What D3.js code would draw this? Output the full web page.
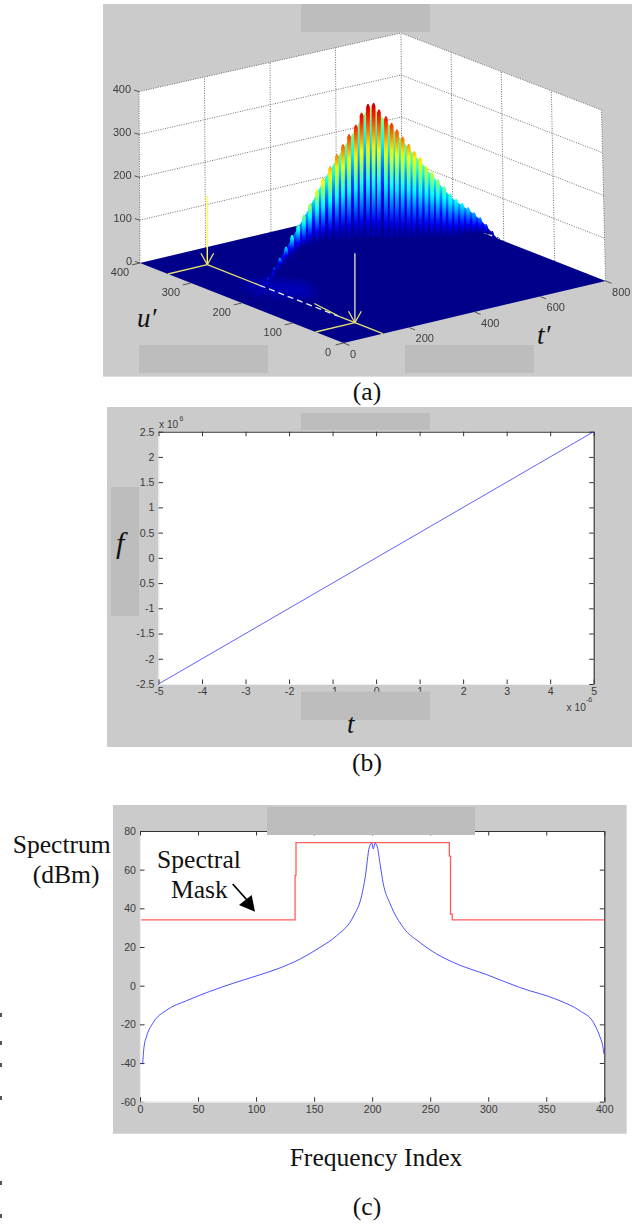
<!DOCTYPE html>
<html>
<head>
<meta charset="utf-8">
<style>
html,body{margin:0;padding:0;background:#fff;}
svg{display:block;}
text{font-family:"Liberation Sans",Arial,sans-serif;fill:#3c3c3c;}
.serif{font-family:"Liberation Serif","Times New Roman",serif;fill:#111;}
</style>
<script src="https://cdnjs.cloudflare.com/ajax/libs/d3/7.8.5/d3.min.js"></script>
</head>
<body>
<script>
// ---------- DATA ----------
// (a) 3-D surface: ridge columns
const ridgeT = [44,62,81,100,118,137,156,175,193,212,234,253,275,296,315,334,355,373,393,410,
                426,447,464,480,497,515,532,550,568,585,602,621,639,657,675,693,711,729,747,765,782];
const ridgeZ = [13,28,44,64,84,106,130,151,171,194,222,246,269,293,313,333,352,377,394,393,
                375,356,337,319,299,279,259,241,219,201,181,161,141,125,112,99,84,69,50,30,12];
const ridgeBaseZ = [5,20,35,54,65,76,84,93,96,100,100,100,98,97,96,92,91,88,84,81,
                    78,74,71,68,65,62,58,55,52,49,46,42,39,38,37,35,33,31,28,22,10];
const ridgeU = 200;
const zTicks = [0,100,200,300,400];
const tTicks = [0,200,400,600,800];
const uTicks = [0,100,200,300,400];
const markT = 120, markUFar = 345, markUNear = 55, markZ = 160;
const dashFromU = 242, dashToU = 85;
const sideMark = {t:[136,122], u:[145,91]};
const glowT = [90,170,210,170,100], glowU = [260,250,200,170,200];

// (b) linear frequency sweep
const sweepT = [-5, 5];      // x 10^-6
const sweepF = [-2.5, 2.5];  // x 10^6
const bXTicks = [-5,-4,-3,-2,-1,0,1,2,3,4,5];
const bYTicks = [-2.5,-2,-1.5,-1,-0.5,0,0.5,1,1.5,2,2.5];

// (c) spectrum and spectral mask
const maskIndex = [1,133,133.6,133.6,134.4,134.4,266.5,266.5,267.5,267.5,269,269,400];
const maskDbm   = [34,34,34,57,57,74,74,67,67,37,37,34,34];
const specIndex = [2.3,3.4,5.8,11.5,23,40,60,80,100,118,138,155,169.5,184,191,194,197.6,199.6,201,202.5,204.5,206.8,209.6,215.4,226.9,241,255.6,270,298.7,327,361,379,390.6,396,398.6,399.8];
const specDbm   = [-40.6,-32,-26,-19,-12.6,-7.8,-3,1.2,5,8.6,13.8,19.8,25.9,36,46.6,56,71.7,73.7,70.8,73.7,71.7,63,52.7,42.5,30,22.4,16.4,12,5.7,-0.9,-7.6,-13,-19,-26,-31,-35.4];
const cXTicks = [0,50,100,150,200,250,300,350,400];
const cYTicks = [-60,-40,-20,0,20,40,60,80];

const strayMarks = [1015,1043,1065,1098,1183,1216];

// ---------- SETUP ----------
const W = 632, H = 1224;
const BG = "#cbcbcb", MASKGREY = "#bdbdbd";
const svg = d3.select("body").append("svg").attr("width",W).attr("height",H);
const defs = svg.append("defs");
const blur = (id,sd)=>defs.append("filter").attr("id",id).attr("x","-10%").attr("y","-10%").attr("width","120%").attr("height","120%")
  .append("feGaussianBlur").attr("stdDeviation",sd);
blur("soft",0.55); blur("softText",0.3); blur("glow",4);

const grey = (x,y,w,h,f)=>svg.append("rect").attr("x",x).attr("y",y).attr("width",w).attr("height",h).attr("fill",f);

// ---------- PANEL A ----------
grey(103,4,529,372.6,BG);
const a = svg.append("g");

const floorTX = d3.scaleLinear([0,800],[343.6,605.6]), floorTY = d3.scaleLinear([0,800],[343,281]);
const floorUX = d3.scaleLinear([0,400],[0,-203.6]),    floorUY = d3.scaleLinear([0,400],[0,-80]);
const ceilTX  = d3.scaleLinear([0,800],[339.5,601.5]), ceilTY  = d3.scaleLinear([0,800],[168.6,110]);
const ceilUX  = d3.scaleLinear([0,400],[0,-200.5]),    ceilUY  = d3.scaleLinear([0,400],[0,-77]);
const zFrac   = d3.scaleLinear([0,400],[0,1]);
function proj(t,u,z){
  const f = zFrac(z);
  const fx = floorTX(t)+floorUX(u), fy = floorTY(t)+floorUY(u);
  const cx = ceilTX(t)+ceilUX(u),  cy = ceilTY(t)+ceilUY(u);
  return [fx+(cx-fx)*f, fy+(cy-fy)*f];
}
const poly = pts => d3.line()(pts)+"Z";

// walls
a.append("path").attr("fill","#fff").attr("d",poly([proj(0,400,0),proj(800,400,0),proj(800,400,400),proj(0,400,400)]));
a.append("path").attr("fill","#fff").attr("d",poly([proj(800,400,0),proj(800,0,0),proj(800,0,400),proj(800,400,400)]));

// grid
const gridStyle = s => s.attr("fill","none").attr("stroke","#707070").attr("stroke-width",1).attr("stroke-dasharray","1 1.4");
const grid = a.append("g");
zTicks.slice(1).forEach(z=>{
  grid.append("path").call(gridStyle).attr("d",d3.line()([proj(0,400,z),proj(800,400,z),proj(800,0,z)]));
});
tTicks.forEach(t=>grid.append("path").call(gridStyle).attr("d",d3.line()([proj(t,400,0),proj(t,400,400)])));
uTicks.slice(0,-1).forEach(u=>grid.append("path").call(gridStyle).attr("d",d3.line()([proj(800,u,0),proj(800,u,400)])));

// floor
a.append("path").attr("fill","#00008a").attr("d",poly([proj(0,0,0),proj(800,0,0),proj(800,400,0),proj(0,400,0)]));
a.append("path").attr("fill","#0000b8").attr("filter","url(#glow)")
  .attr("d",d3.line().curve(d3.curveCatmullRomClosed)(glowT.map((t,i)=>proj(t,glowU[i],0))));

// surface
const jet = d3.scaleLinear().domain([0,.125,.375,.625,.875,1])
  .range(["#00008a","#0000ff","#00ffff","#ffff00","#ff0000","#800000"]).clamp(true);
const jetMax = 430;
const heat = h => jet(Math.pow(h/jetMax,0.72));
let gradId = 0;
function stripGradient(yTop,yBottom,z,power){
  const id = "g"+(gradId++);
  const g = defs.append("linearGradient").attr("id",id).attr("gradientUnits","userSpaceOnUse")
    .attr("x1",0).attr("x2",0).attr("y1",yTop).attr("y2",yBottom);
  d3.range(0,1.001,0.08).forEach(s=>{
    g.append("stop").attr("offset",s).attr("stop-color",heat(z*Math.pow(1-s,power)));
  });
  return "url(#"+id+")";
}
const surf = a.append("g").attr("filter","url(#soft)");
const tops = ridgeT.map((t,i)=>proj(t,ridgeU,ridgeZ[i]));
const bases = ridgeT.map((t,i)=>proj(t,ridgeU,ridgeBaseZ[i]));
// valleys between crests
ridgeT.slice(0,-1).forEach((t,i)=>{
  const zm = (ridgeZ[i]+ridgeZ[i+1])/2;
  const dip = 1.5+3.5*zm/400, share = 0.95-0.5*zm/400;
  const yA = tops[i][1]+dip, yB = tops[i+1][1]+dip;
  const yBot = Math.max(bases[i][1],bases[i+1][1], yA, yB);
  const pts = [[tops[i][0],yA],[tops[i+1][0],yB],[tops[i+1][0],yBot],[tops[i][0],yBot]];
  surf.append("path").attr("d",poly(pts))
    .attr("fill",stripGradient(Math.min(yA,yB),yBot,zm*share,2));
});
// crests
const crestHalf = 1.9;
ridgeT.forEach((t,i)=>{
  const [x,y] = tops[i];
  const yBot = Math.max(bases[i][1],y+1);
  const pts = [[x-crestHalf,yBot],[x-crestHalf,y+3],[x-0.6,y],[x+0.6,y],[x+crestHalf,y+3],[x+crestHalf,yBot]];
  surf.append("path").attr("d",poly(pts)).attr("fill",stripGradient(y,yBot,ridgeZ[i],1.35));
});

// yellow construction lines
const lines = a.append("g").attr("fill","none");
const yel = "#e9df6e";
const seg = (p,q,c,w,dash)=>{
  const l = lines.append("path").attr("d",d3.line()([p,q])).attr("stroke",c).attr("stroke-width",w);
  if(dash) l.attr("stroke-dasharray",dash);
  return l;
};
seg(proj(0,markUFar,0),proj(markT,markUFar,0),yel,1.3);
seg(proj(0,markUNear,0),proj(markT,markUNear,0),yel,1.3);
seg(proj(markT,markUFar,0),proj(markT,dashFromU,0),yel,1.3);
seg(proj(markT,dashFromU,0),proj(markT,dashToU,0),"#e6ecf4",1.3,"6 4");
seg(proj(markT,dashToU,0),proj(markT,0,0),yel,1.3);
seg(proj(sideMark.t[0],sideMark.u[0],0),proj(sideMark.t[1],sideMark.u[1],0),yel,1.2);
// arrows
[[markUFar,"#ffff4a"],[markUNear,"#d8d8b0"]].forEach(([u,c])=>{
  const tip = proj(markT,u,0), top = proj(markT,u,markZ);
  seg([tip[0],top[1]],tip,c,1.4);
  seg([tip[0]-6.4,tip[1]-11.5],tip,yel,1.3);
  seg([tip[0]+6.4,tip[1]-11.5],tip,yel,1.3);
});

// ticks and labels
const tk = a.append("g").attr("filter","url(#softText)");
const tkLine = (p,q)=>tk.append("path").attr("d",d3.line()([p,q])).attr("stroke","#555").attr("fill","none");
zTicks.forEach(z=>{
  const p = proj(0,400,z);
  tkLine([p[0]-5,p[1]-1.5],p);
  tk.append("text").attr("x",p[0]-8).attr("y",p[1]+1.5).attr("text-anchor","end").attr("font-size",11).text(z);
});
uTicks.forEach(u=>{
  const p = proj(0,u,0);
  tkLine(p,[p[0]-8,p[1]+1.9]);
  tk.append("text").attr("x",p[0]-(u===0?15.6:20)).attr("y",p[1]+13).attr("text-anchor","middle").attr("font-size",11).text(u);
});
tTicks.forEach(t=>{
  const p = proj(t,0,0);
  tkLine(p,[p[0]+6,p[1]+2.4]);
  tk.append("text").attr("x",p[0]+(t===0?9.4:15.6)).attr("y",p[1]+14.5).attr("text-anchor","middle").attr("font-size",11).text(t);
});

grey(301,4,129,28,MASKGREY);
grey(139,345,129,28,MASKGREY);
grey(405,345,129,28,MASKGREY);

const serif = (x,y,s,size,opts={})=>svg.append("text").attr("class","serif").attr("x",x).attr("y",y)
  .attr("font-size",size).attr("text-anchor",opts.anchor||"middle").attr("font-style",opts.italic?"italic":"normal").text(s);
serif(137,327,"u\u2032",27,{anchor:"start",italic:true});
serif(537,344,"t\u2032",27,{anchor:"start",italic:true});
serif(367,400,"(a)",25.6);

// ---------- shared 2-D box ----------
function box(g,x,y,xTicks,yTicks){
  const [l,r] = x.range(), [b,t] = y.range();
  g.append("rect").attr("x",l).attr("y",t).attr("width",r-l).attr("height",b-t).attr("fill","#fff");
  const st = (sel,dark)=>{
    sel.selectAll(".domain").attr("stroke",dark?"#333":"#efefef").attr("stroke-width",dark?1.1:1.2);
    sel.selectAll(".tick line").attr("stroke","#333");
    sel.selectAll(".tick text").attr("fill","#3c3c3c").attr("font-size",10.6)
      .attr("font-family",'"Liberation Sans",Arial,sans-serif');
  };
  const fmt = d=>String(d);
  g.append("g").attr("transform",`translate(${l},0)`)
    .call(d3.axisLeft(y).tickValues(yTicks).tickFormat(fmt).tickSizeInner(-4.5).tickSizeOuter(0).tickPadding(4)).call(s=>st(s,false));
  g.append("g").attr("transform",`translate(0,${b})`)
    .call(d3.axisBottom(x).tickValues(xTicks).tickFormat(fmt).tickSizeInner(-4.5).tickSizeOuter(0).tickPadding(3.5)).call(s=>st(s,false));
  g.append("g").attr("transform",`translate(${r},0)`)
    .call(d3.axisRight(y).tickValues(yTicks).tickFormat("").tickSizeInner(-4.5).tickSizeOuter(0)).call(s=>st(s,true));
  g.append("g").attr("transform",`translate(0,${t})`)
    .call(d3.axisTop(x).tickValues(xTicks).tickFormat("").tickSizeInner(-4.5).tickSizeOuter(0)).call(s=>st(s,true));
}

// ---------- PANEL B ----------
grey(107,407,525,340,BG);
const bx = d3.scaleLinear([-5,5],[158.5,593.7]);
const by = d3.scaleLinear([-2.5,2.5],[684,431.7]);
const b = svg.append("g");
box(b,bx,by,bXTicks,bYTicks);
b.append("path").attr("fill","none").attr("stroke","#3a3aff").attr("stroke-width",1).attr("stroke-opacity",.8)
  .attr("d",d3.line().x((d,i)=>bx(d)).y((d,i)=>by(sweepF[i]))(sweepT));
const note = (x,y,t,s)=>svg.append("text").attr("x",x).attr("y",y).attr("font-size",s).text(t);
note(159,428,"x 10",10.2); note(179.5,421,"6",7);
note(566.6,710.6,"x 10",10.2); note(586,702,"-6",7);
grey(301,413,129,17,MASKGREY);
grey(111,487,28,129,MASKGREY);
grey(301,691.6,129,28.4,MASKGREY);
serif(116,553,"f",30,{anchor:"start",italic:true});
serif(347,733,"t",27,{anchor:"start",italic:true});
serif(367,771,"(b)",25.6);

// ---------- PANEL C ----------
grey(113,805,513.7,328.7,BG);
const cx = d3.scaleLinear([0,400],[140,604.3]);
const cy = d3.scaleLinear([-60,80],[1101.7,831]);
const c = svg.append("g");
box(c,cx,cy,cXTicks,cYTicks);
const linec = d3.line().x(d=>cx(d[0])).y(d=>cy(d[1]));
c.append("path").attr("fill","none").attr("stroke","#ff5c5c").attr("stroke-width",1.3)
  .attr("d",linec(maskIndex.map((v,i)=>[v,maskDbm[i]])));
c.append("path").attr("fill","none").attr("stroke","#3030ff").attr("stroke-width",1).attr("stroke-opacity",.85)
  .attr("d",linec.curve(d3.curveMonotoneX)(specIndex.map((v,i)=>[v,specDbm[i]])));
grey(267,807,208,28,MASKGREY);

serif(12.7,852.7,"Spectrum",25.6,{anchor:"start"});
serif(32.7,882.7,"(dBm)",25.6,{anchor:"start"});
serif(157,868,"Spectral",25.6,{anchor:"start"});
serif(171,898,"Mask",25.6,{anchor:"start"});
// arrow of the "Spectral Mask" label
svg.append("path").attr("d",d3.line()([[232.7,884],[247,900]])).attr("stroke","#000").attr("stroke-width",1.8);
svg.append("path").attr("d",poly([[255,911.7],[239,905],[251.7,895]])).attr("fill","#000");
serif(376,1165.7,"Frequency Index",25.6);
serif(367,1215,"(c)",25.6);

// clipped letters at the page edge
strayMarks.forEach(y=>svg.append("rect").attr("x",0).attr("y",y-2).attr("width",2).attr("height",4).attr("fill","#555"));
</script>
</body>
</html>
